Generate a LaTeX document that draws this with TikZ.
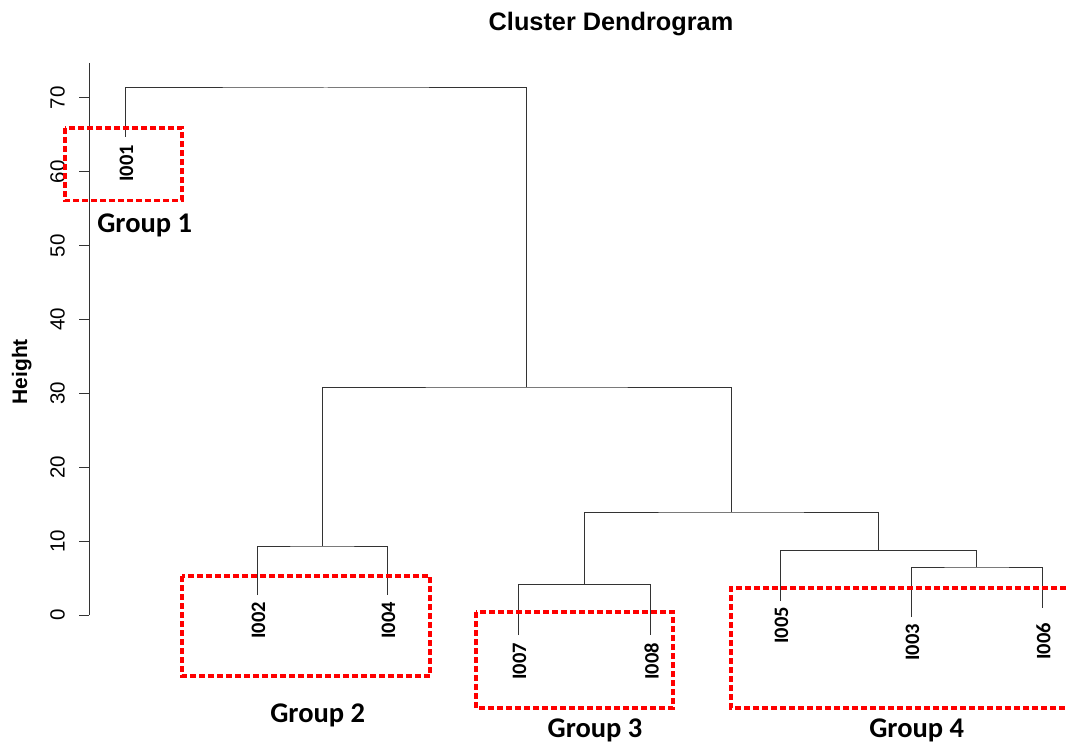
\documentclass[tikz,border=0pt]{standalone}
\usepackage{fontspec}
\setmainfont{Liberation Sans}
\newfontfamily\grpfont{Carlito}
\usetikzlibrary{positioning}

\tikzset{
  branch/.style={draw=black!80, line width=1pt},
  leaflab/.style={font=\grpfont\bfseries\fontsize{20.5}{22}\selectfont, rotate=90, anchor=east, inner sep=0pt},
  grouplab/.style={font=\grpfont\bfseries\fontsize{28.5}{30}\selectfont, inner sep=0pt},
  groupbox/.style={draw=red, line width=3.2pt, dash pattern=on 6pt off 3pt},
  ticklab/.style={font=\fontsize{20.5}{22}\selectfont, rotate=90, inner sep=0pt},
}

\begin{document}
\begin{tikzpicture}[x=1pt, y=-1pt]
    \useasboundingbox (0,0) rectangle (1068,743);

    % Title
    \node[font=\bfseries\fontsize{25.3}{27}\selectfont] (title) at (611,24) {Cluster Dendrogram};

    % Height axis
    \draw[branch] (89,63) -- (89,615);
    \foreach \h in {0,10,...,70} {
        \draw[branch] (89,{615-7.386*\h}) -- ++(-10,0);
        \node[ticklab] (tick\h) at (57.5,{615-7.386*\h}) {\h};
    }
    \node[font=\bfseries\fontsize{21}{22}\selectfont, rotate=90] (ylab) at (21.7,371.7) {Height};

    % Leaf ends
    \coordinate (e1) at (125,136.7);
    \coordinate (e2) at (257,595);
    \coordinate (e4) at (387,595);
    \coordinate (e7) at (518,635);
    \coordinate (e8) at (650,635);
    \coordinate (e5) at (780,601);
    \coordinate (e3) at (911,617);
    \coordinate (e6) at (1042,608);

    % Merge points
    \coordinate (m24) at (322,546);
    \coordinate (m78) at (584,584.5);
    \coordinate (m36) at (976.5,567);
    \coordinate (m536) at (878,550.5);
    \coordinate (mR) at (731,512);
    \coordinate (mL) at (526.5,387);
    \coordinate (mtop) at (325.75,88);

    % Branches
    \draw[branch] (e2) |- (m24) -| (e4);
    \draw[branch] (e7) |- (m78) -| (e8);
    \draw[branch] (e3) |- (m36) -| (e6);
    \draw[branch] (e5) |- (m536) -| (m36);
    \draw[branch] (m78) |- (mR) -| (m536);
    \draw[branch] (m24) |- (mL) -| (mR);
    \draw[branch] (e1) |- (mtop) -| (mL);

    % Leaf labels
    \node[leaflab] (I001) at (126.5,145) {I001};
    \node[leaflab] (I002) at (258.5,602) {I002};
    \node[leaflab] (I004) at (388.5,602) {I004};
    \node[leaflab] (I007) at (519.5,643) {I007};
    \node[leaflab] (I008) at (651.5,643) {I008};
    \node[leaflab] (I005) at (781.5,607) {I005};
    \node[leaflab] (I003) at (912.5,624) {I003};
    \node[leaflab] (I006) at (1043.5,623) {I006};

    % Groups
    \draw[groupbox] (65,128) rectangle (182,200.7);
    \draw[groupbox] (182,576) rectangle (430,676);
    \draw[groupbox] (476,612) rectangle (673,708);
    \draw[groupbox] (1075,588) -- (731,588) -- (731,708) -- (1075,708);
    \node[grouplab] (g1) at (144.7,225) {Group 1};
    \node[grouplab] (g2) at (317.7,715.5) {Group 2};
    \node[grouplab] (g3) at (595,730) {Group 3};
    \node[grouplab] (g4) at (916.7,730.5) {Group 4};
\end{tikzpicture}
\end{document}
